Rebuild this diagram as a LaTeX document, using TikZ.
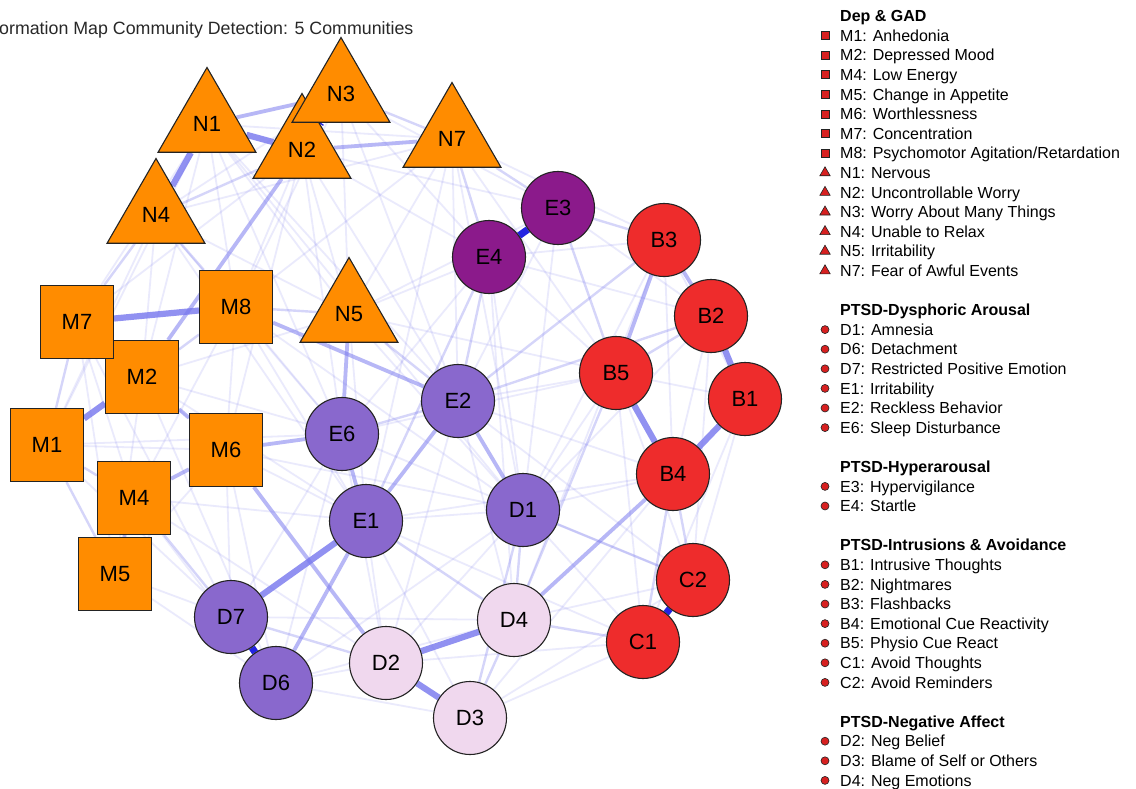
\documentclass[tikz,border=0pt]{standalone}
\usepackage{fontspec}
\setmainfont{Liberation Sans}
\usetikzlibrary{shapes.geometric}
\pgfdeclarelayer{background}
\pgfsetlayers{background,main}
\definecolor{orng}{RGB}{255,140,0}
\definecolor{dpurp}{RGB}{139,26,139}
\definecolor{mpurp}{RGB}{137,104,205}
\definecolor{redn}{RGB}{238,44,44}
\definecolor{pinkn}{RGB}{240,216,238}
\definecolor{lav}{RGB}{118,118,238}
\definecolor{dblue}{RGB}{35,35,225}
\definecolor{bord}{RGB}{35,35,35}
\definecolor{legred}{RGB}{215,32,32}
\definecolor{ttl}{RGB}{40,40,40}
\tikzset{
  base/.style={draw=bord, line width=1.1pt, inner sep=0pt, font=\fontsize{22}{22}\selectfont},
  sq/.style={base, rectangle, minimum size=73pt, fill=orng},
  tri/.style={base, regular polygon, regular polygon sides=3, minimum size=113pt, fill=orng},
  circ/.style={base, circle, minimum size=73pt},
  ptdp/.style={circ, fill=dpurp},
  ptmp/.style={circ, fill=mpurp},
  ptrd/.style={circ, fill=redn},
  ptpk/.style={circ, fill=pinkn},
  e1/.style={draw=lav, draw opacity=.15, line width=1.8pt},
  e2/.style={draw=lav, draw opacity=.3, line width=2.4pt},
  e3/.style={draw=lav, draw opacity=.52, line width=3.8pt},
  e4/.style={draw=lav, draw opacity=.8, line width=6.2pt},
  e5/.style={draw=dblue, line width=7pt},
  mksq/.style={rectangle, draw=bord, fill=legred, line width=.6pt, minimum size=8pt, inner sep=0pt},
  mktri/.style={regular polygon, regular polygon sides=3, draw=bord, fill=legred, line width=.6pt, minimum size=12pt, inner sep=0pt},
  mkcirc/.style={circle, draw=bord, fill=legred, line width=.6pt, minimum size=8pt, inner sep=0pt},
  lgtx/.style={anchor=base west, inner sep=0pt, font=\fontsize{16}{18}\selectfont},
  lghd/.style={lgtx, font=\fontsize{16}{18}\selectfont\bfseries},
}
\newcommand{\lghead}[2]{\node[lghd] (lg#1) at (840,{16+#1*19.6+5.7}) {#2};}
\newcommand{\lgitem}[3]{\node[mk#2] (mk#1) at (825,{16+#1*19.6}) {};
  \node[lgtx] (lg#1) at (840,{16+#1*19.6+5.7}) {#3};}
\begin{document}
\begin{tikzpicture}[x=1pt,y=-1pt]
\useasboundingbox (0,0) rectangle (1136,789);
% title
\node[anchor=base west, inner sep=0pt, font=\fontsize{17.8}{20}\selectfont, text=ttl] (title) at (-1,35) {ormation Map Community Detection: 5 Communities};
% nodes
\node[tri] (N2) at (302,150) {N2};
\node[tri] (N3) at (341,94) {N3};
\node[tri] (N1) at (207,124) {N1};
\node[tri] (N4) at (156,215) {N4};
\node[tri] (N7) at (452,139) {N7};
\node[tri] (N5) at (349,314) {N5};
\node[sq] (M2) at (142,377) {M2};
\node[sq] (M7) at (77,322) {M7};
\node[sq] (M8) at (236,307) {M8};
\node[sq] (M1) at (47,445) {M1};
\node[sq] (M6) at (226,450) {M6};
\node[sq] (M4) at (134,498) {M4};
\node[sq] (M5) at (115,574) {M5};
\node[ptmp] (E6) at (342,434) {E6};
\node[ptmp] (E1) at (366,521) {E1};
\node[ptmp] (E2) at (458,401) {E2};
\node[ptmp] (D1) at (523,510) {D1};
\node[ptdp] (E4) at (489,257) {E4};
\node[ptdp] (E3) at (558,208) {E3};
\node[ptrd] (B3) at (664,240) {B3};
\node[ptrd] (B2) at (711,316) {B2};
\node[ptrd] (B5) at (616,373) {B5};
\node[ptrd] (B1) at (745,399) {B1};
\node[ptrd] (B4) at (673,474) {B4};
\node[ptrd] (C2) at (693,580) {C2};
\node[ptrd] (C1) at (643,642) {C1};
\node[ptmp] (D7) at (231,617) {D7};
\node[ptmp] (D6) at (276,683) {D6};
\node[ptpk] (D2) at (386,663) {D2};
\node[ptpk] (D4) at (514,620) {D4};
\node[ptpk] (D3) at (470,718) {D3};
% edges
\begin{pgfonlayer}{background}
\fill[white] (0,0) rectangle (1136,789);
% very faint web
\foreach \a/\b in {N1/M7,N1/M2,N1/M8,N1/E2,N1/N5,N1/M1,N1/E6,N1/D1,N2/M8,N2/N5,N2/E4,N2/E3,N2/E2,N2/E6,N2/M7,N2/M6,
  N3/N4,N3/E3,N3/N5,N3/M8,N3/E2,N3/E4,N7/N4,N7/N1,N7/E2,N7/E1,N7/B3,N7/B5,N7/N5,N7/D1,N7/M8,
  N4/M2,N4/M1,N4/N5,N4/E6,N5/M2,N5/E4,N5/E3,N5/B5,N5/D1,M7/M4,M7/M6,M7/D7,M7/M5,M8/M6,M8/E6,M8/M4,M8/E1,
  M2/M5,M2/E6,M2/D6,M1/M6,M1/D7,M6/D7,M6/E1,M6/D6,M6/M5,M4/D6,M4/D2,M4/E1,M5/D7,M5/D6,E6/D7,E6/D6,E6/E4,E6/D1,E6/D2,
  E1/D1,E1/D2,E1/D3,E2/E3,E2/B5,E2/D4,E2/D2,E2/B4,E3/B2,E3/D1,E4/B5,E4/B3,E4/D1,E4/B2,E4/D4,
  B3/B4,B3/B1,B3/D4,B3/D1,B2/B4,B2/C2,B1/C2,B1/C1,B1/B5,B5/D1,B5/C1,B5/C2,B4/D1,B4/D3,
  C1/D3,C1/D2,C1/D1,C2/D4,C2/D1,C2/D3,D1/D2,D1/D6,D2/D6,D4/D6,D3/D6,D4/D7,E1/C1,E2/C2,M8/D1,N5/E1,
  E6/B5,E1/B4,D1/B2,M6/D1,M2/E1,N4/E1,M1/E6}
  {\draw[e1] (\a) -- (\b);}
% light
\foreach \a/\b in {N4/N2,N3/N7,N7/E3,N7/E4,E3/B3,E3/B5,E2/B2,E2/B3,E2/E4,D1/D4,D3/D4,B4/C2,B4/C1,D4/C1,
  D7/D2,M4/D7,M1/M5,D1/C2,E1/D4,D1/D3,M7/M2,M1/M4,M7/M1,N4/M8,N4/M7,M8/N5,N5/E2,B5/D4,B5/B2,E6/E2,M8/M2,E4/E1}
  {\draw[e2] (\a) -- (\b);}
% medium
\foreach \a/\b in {N1/N3,N2/N7,B3/B5,B2/B3,E1/E2,E1/E6,E2/D1,E6/N5,E6/M6,M2/M6,M4/M6,M4/M5,M8/E2,D4/B4,D6/E1,M6/D2,N2/M2}
  {\draw[e3] (\a) -- (\b);}
% strong
\foreach \a/\b in {N1/N2,N1/N4,M7/M8,M1/M2,B1/B2,B1/B4,B4/B5,D2/D4,D2/D3,E1/D7}
  {\draw[e4] (\a) -- (\b);}
% strongest
\foreach \a/\b in {N2/N3,E3/E4,C1/C2,D6/D7}
  {\draw[e5] (\a) -- (\b);}
\end{pgfonlayer}
% legend
\lghead{0}{Dep \& GAD}
\lgitem{1}{sq}{M1: Anhedonia}
\lgitem{2}{sq}{M2: Depressed Mood}
\lgitem{3}{sq}{M4: Low Energy}
\lgitem{4}{sq}{M5: Change in Appetite}
\lgitem{5}{sq}{M6: Worthlessness}
\lgitem{6}{sq}{M7: Concentration}
\lgitem{7}{sq}{M8: Psychomotor Agitation/Retardation}
\lgitem{8}{tri}{N1: Nervous}
\lgitem{9}{tri}{N2: Uncontrollable Worry}
\lgitem{10}{tri}{N3: Worry About Many Things}
\lgitem{11}{tri}{N4: Unable to Relax}
\lgitem{12}{tri}{N5: Irritability}
\lgitem{13}{tri}{N7: Fear of Awful Events}
\lghead{15}{PTSD-Dysphoric Arousal}
\lgitem{16}{circ}{D1: Amnesia}
\lgitem{17}{circ}{D6: Detachment}
\lgitem{18}{circ}{D7: Restricted Positive Emotion}
\lgitem{19}{circ}{E1: Irritability}
\lgitem{20}{circ}{E2: Reckless Behavior}
\lgitem{21}{circ}{E6: Sleep Disturbance}
\lghead{23}{PTSD-Hyperarousal}
\lgitem{24}{circ}{E3: Hypervigilance}
\lgitem{25}{circ}{E4: Startle}
\lghead{27}{PTSD-Intrusions \& Avoidance}
\lgitem{28}{circ}{B1: Intrusive Thoughts}
\lgitem{29}{circ}{B2: Nightmares}
\lgitem{30}{circ}{B3: Flashbacks}
\lgitem{31}{circ}{B4: Emotional Cue Reactivity}
\lgitem{32}{circ}{B5: Physio Cue React}
\lgitem{33}{circ}{C1: Avoid Thoughts}
\lgitem{34}{circ}{C2: Avoid Reminders}
\lghead{36}{PTSD-Negative Affect}
\lgitem{37}{circ}{D2: Neg Belief}
\lgitem{38}{circ}{D3: Blame of Self or Others}
\lgitem{39}{circ}{D4: Neg Emotions}
\end{tikzpicture}
\end{document}
